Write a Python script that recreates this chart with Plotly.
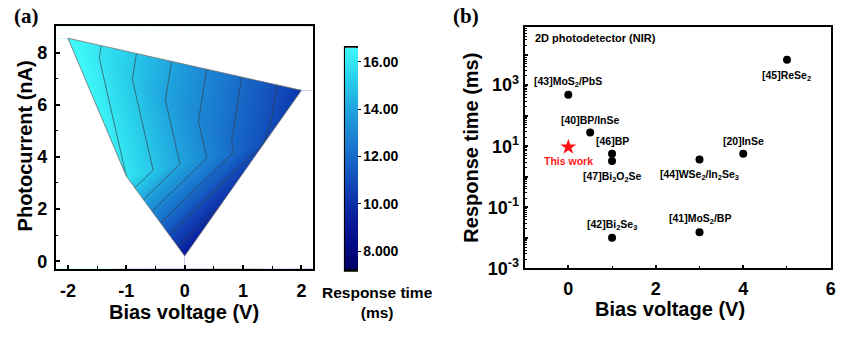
import numpy as np
import plotly.graph_objects as go

# ---------------- Panel (a) data: triangulated measurement nodes ----------------
node_bias = [-2.0, 2.0, 0.0, -1.0, 1.0, 1.35]          # V
node_current = [8.55, 6.55, 0.20, 3.26, 4.27, 4.49]    # nA
node_time = [16.95, 10.30, 9.20, 16.00, 11.65, 11.00]  # ms
tri_index = [(0, 3, 4), (0, 4, 1), (3, 2, 4), (4, 2, 5), (4, 5, 1)]
hull_index = [0, 1, 5, 2, 3, 0]

a_xticks = [-2, -1, 0, 1, 2]
a_yticks = [0, 2, 4, 6, 8]
cbar_ticks = [8, 10, 12, 14, 16]
cbar_text = ["8.000", "10.00", "12.00", "14.00", "16.00"]
cbar_min, cbar_max = 7.24, 16.57
contour_start, contour_end, contour_step = 8, 16, 1

# ---------------- Panel (b) data ----------------
ref_labels = ["[45]ReSe<sub>2</sub>", "[43]MoS<sub>2</sub>/PbS", "[40]BP/InSe", "[46]BP",
              "[47]Bi<sub>2</sub>O<sub>2</sub>Se", "[44]WSe<sub>2</sub>/In<sub>2</sub>Se<sub>3</sub>",
              "[20]InSe", "[42]Bi<sub>2</sub>Se<sub>3</sub>", "[41]MoS<sub>2</sub>/BP"]
ref_bias = [5, 0, 0.5, 1, 1, 3, 4, 1, 3]
ref_time = [6700, 480, 28, 5.7, 3.3, 3.7, 5.7, 0.0102, 0.0154]
work_bias = [0]
work_time = [9.4]
b_xticks = [0, 2, 4, 6]
b_decades = list(range(-3, 5))

# ---------------- styles / layout constants ----------------
W, H = 842, 337
def px(x):
    return x / W
def py(y):
    return 1 - y / H

XR_A = [-2.21, 2.2]
YR_A = [-0.29, 9.01]
XR_B = [-1, 6]
YR_B = [-3, 4.886]
FONT = "Liberation Sans, Arial"
label_above = [False, True, True, True, False, False, True, True, True]

CS = [[0.0, "#000066"], [0.12, "#040c86"], [0.25, "#0a22a0"], [0.4, "#124cba"],
      [0.55, "#1976ce"], [0.72, "#1fa3de"], [0.87, "#2ad2ec"], [1.0, "#3ef6f8"]]

def bold(v):
    return "<b>%s</b>" % v

# ---------- evaluate triangulated surface (linear within each triangle) ----------
nv = np.array(node_bias); ni = np.array(node_current); nt = np.array(node_time)
gx = np.linspace(XR_A[0], XR_A[1], 241)
gy = np.linspace(YR_A[0], YR_A[1], 281)
GX, GY = np.meshgrid(gx, gy)
best = np.full(GX.shape, -np.inf)
Z = np.zeros_like(GX)
for a, b, c in tri_index:
    x1, y1, x2, y2, x3, y3 = nv[a], ni[a], nv[b], ni[b], nv[c], ni[c]
    det = (y2 - y3) * (x1 - x3) + (x3 - x2) * (y1 - y3)
    l1 = ((y2 - y3) * (GX - x3) + (x3 - x2) * (GY - y3)) / det
    l2 = ((y3 - y1) * (GX - x3) + (x1 - x3) * (GY - y3)) / det
    l3 = 1 - l1 - l2
    m = np.minimum(np.minimum(l1, l2), l3)
    val = l1 * nt[a] + l2 * nt[b] + l3 * nt[c]
    upd = m > best
    Z[upd] = val[upd]
    best[upd] = m[upd]
Z = np.round(Z, 3)

fig = go.Figure()

fig.add_trace(go.Heatmap(
    x=gx, y=gy, z=Z, zsmooth="best", colorscale=CS, zmin=cbar_min, zmax=cbar_max,
    hoverinfo="skip",
    colorbar=dict(x=px(346.7), xanchor="left", xpad=0, ypad=0,
                  y=py((53.3 + 274) / 2), yanchor="middle",
                  len=274 - 53.3, lenmode="pixels", thickness=12.6, thicknessmode="pixels",
                  outlinewidth=0, tickvals=cbar_ticks, ticktext=[bold(t) for t in cbar_text],
                  ticks="outside", ticklen=3, tickwidth=1.2, tickcolor="black",
                  tickfont=dict(family=FONT, size=14, color="black")),
    xaxis="x", yaxis="y"))

fig.add_trace(go.Contour(
    x=gx, y=gy, z=Z, showscale=False, hoverinfo="skip",
    contours=dict(start=contour_start, end=contour_end, size=contour_step, coloring="none"),
    line=dict(color="#3c3c3c", width=0.7), xaxis="x", yaxis="y"))

# white masks outside the measured hull
A = (nv[0], ni[0]); B = (nv[1], ni[1]); C = (nv[2], ni[2]); D = (nv[3], ni[3]); E = (nv[5], ni[5])
x0, x1 = XR_A[0] - 0.05, XR_A[1] + 0.05
y0, y1 = YR_A[0] - 0.1, YR_A[1] + 0.1
masks = [
    [(x0, y1), (x1, y1), (x1, B[1]), B, A, (x0, A[1])],
    [(x1, B[1]), B, E, C, (C[0], y0), (x1, y0)],
    [(x0, A[1]), A, D, C, (C[0], y0), (x0, y0)],
]
for poly in masks:
    fig.add_trace(go.Scatter(x=[p[0] for p in poly] + [poly[0][0]],
                             y=[p[1] for p in poly] + [poly[0][1]],
                             mode="lines", fill="toself", fillcolor="white",
                             line=dict(width=0, color="white"), hoverinfo="skip",
                             xaxis="x", yaxis="y"))
fig.add_trace(go.Scatter(x=[nv[k] for k in hull_index], y=[ni[k] for k in hull_index],
                         mode="lines", line=dict(color="#707070", width=0.8),
                         hoverinfo="skip", xaxis="x", yaxis="y"))

# ---------------- Panel (b) ----------------
fig.add_trace(go.Scatter(x=ref_bias, y=ref_time, mode="markers",
                         marker=dict(symbol="circle", size=8, color="black"),
                         xaxis="x2", yaxis="y2"))
fig.add_trace(go.Scatter(x=work_bias, y=work_time, mode="markers",
                         marker=dict(symbol="star", size=12, color="#ff1010", line=dict(width=0)),
                         xaxis="x2", yaxis="y2"))

annotations = []
for lab, xb, tb, up in zip(ref_labels, ref_bias, ref_time, label_above):
    annotations.append(dict(xref="x2", yref="y2", x=xb, y=np.log10(tb), text=bold(lab),
                            showarrow=False, yshift=13 if up else -16,
                            xanchor="center", yanchor="middle",
                            font=dict(family=FONT, size=10.5, color="black")))
annotations.append(dict(xref="x2", yref="y2", x=work_bias[0], y=np.log10(work_time[0]),
                        text=bold("This work"), showarrow=False, yshift=-14,
                        xanchor="center", yanchor="middle",
                        font=dict(family=FONT, size=10.5, color="#ff1a1a")))
annotations.append(dict(xref="paper", yref="paper", x=px(536), y=py(39.3), xanchor="left",
                        yanchor="middle", text=bold("2D photodetector (NIR)"), showarrow=False,
                        font=dict(family=FONT, size=11, color="black")))
# axis titles and panel labels
title_font = dict(family=FONT, size=20, color="black")
def note(x, y, text, font, angle=0):
    return dict(xref="paper", yref="paper", x=px(x), y=py(y), text=text, showarrow=False,
                xanchor="center", yanchor="middle", textangle=angle, font=font)
annotations += [
    note(185, 321.7, bold("Bias voltage (V)"), title_font),
    note(25, 150, bold("Photocurrent (nA)"), title_font, -90),
    note(673.5, 318, bold("Bias voltage (V)"), title_font),
    note(474, 152, bold("Response time (ms)"), title_font, -90),
    note(380, 311.5, bold("Response time<br>(ms)"), dict(family=FONT, size=15.5, color="black")),
    note(27, 17, bold("(a)"), dict(family="Liberation Serif, Times New Roman", size=21, color="black")),
    note(469, 17, bold("(b)"), dict(family="Liberation Serif, Times New Roman", size=21, color="black")),
]

tickfont = dict(family=FONT, size=18, color="black")
axis_common = dict(showline=True, linecolor="black", linewidth=1.8, mirror=True,
                   ticks="inside", ticklen=4, tickwidth=1.5, tickcolor="black",
                   showgrid=False, zeroline=False, tickfont=tickfont)

minor_b_y = [k * 10.0 ** d for d in range(-3, 5) for k in range(2, 10)]
b_ytext = [bold("10<sup>%d</sup>" % d) if d % 2 else "" for d in b_decades]

fig.update_layout(
    width=W, height=H, margin=dict(l=0, r=0, t=0, b=0),
    paper_bgcolor="white", plot_bgcolor="white", showlegend=False,
    xaxis=dict(domain=[px(56), px(315)], range=XR_A, tickvals=a_xticks,
               ticktext=[bold(v) for v in a_xticks], ticklabelstandoff=5,
               minor=dict(tickvals=[-1.5, -0.5, 0.5, 1.5], ticks="inside", ticklen=2.5,
                          tickwidth=1.2, tickcolor="black"), anchor="y", **axis_common),
    yaxis=dict(domain=[py(277), py(27)], range=YR_A, tickvals=a_yticks,
               ticktext=[bold(v) for v in a_yticks], ticklabelstandoff=3,
               minor=dict(tickvals=[1, 3, 5, 7], ticks="inside", ticklen=2.5,
                          tickwidth=1.2, tickcolor="black"), anchor="x", **axis_common),
    xaxis2=dict(domain=[px(527.7), px(835.7)], range=XR_B, tickvals=b_xticks,
                ticktext=[bold(v) for v in b_xticks], ticklabelstandoff=3,
                minor=dict(tickvals=[-1, 1, 3, 5], ticks="inside", ticklen=2.5,
                           tickwidth=1.2, tickcolor="black"), anchor="y2", **axis_common),
    yaxis2=dict(domain=[py(276.7), py(28.3)], type="log", range=YR_B,
                tickvals=[10.0 ** d for d in b_decades], ticktext=b_ytext,
                minor=dict(tickvals=minor_b_y, ticks="inside", ticklen=2.5,
                           tickwidth=1, tickcolor="black"), anchor="x2", **axis_common),
    annotations=annotations,
    shapes=[
        dict(type="rect", xref="paper", yref="paper", x0=px(346.7), x1=px(359.3),
             y0=py(53.3), y1=py(48.3), fillcolor="#8c8c8c", line=dict(width=0)),
        dict(type="rect", xref="paper", yref="paper", x0=px(346.7), x1=px(359.3),
             y0=py(279.3), y1=py(274), fillcolor="#050505", line=dict(width=0)),
        dict(type="rect", xref="paper", yref="paper", x0=px(346.7), x1=px(359.3),
             y0=py(279.3), y1=py(48.3), line=dict(color="black", width=1.5)),
    ],
)

fig.write_html("out.html")
